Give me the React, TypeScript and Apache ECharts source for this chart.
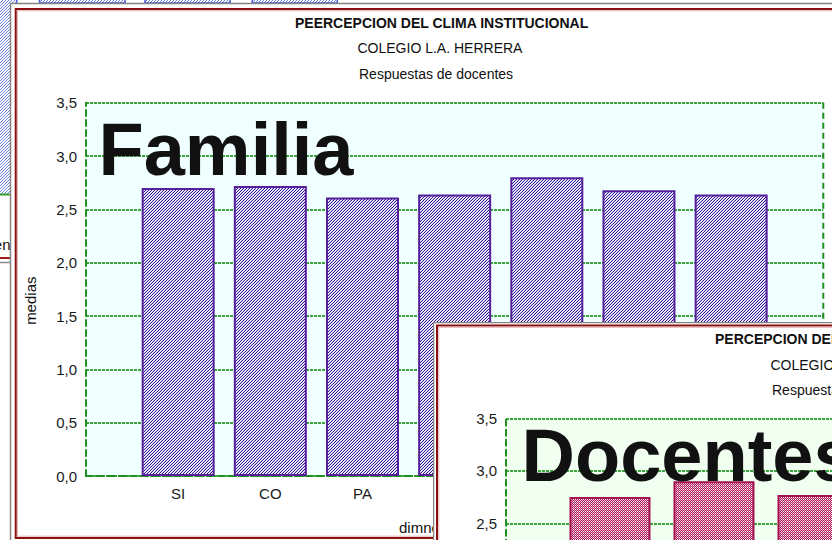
import React, { useEffect, useRef } from "react";
import * as echarts from "echarts";

// ---------- data ----------
const categories = ["SI", "CO", "PA", "CF", "MO", "LI", "RE"];
const familiaValues = [2.7, 2.72, 2.61, 2.64, 2.8, 2.68, 2.64];
const docentesValues = [2.75, 2.9, 2.77];
const mainTitle = "PEERCEPCION DEL CLIMA INSTITUCIONAL";
const docTitle = "PERCEPCION DEL CLIMA INSTITUCIONAL";
const subTitle1 = "COLEGIO L.A. HERRERA";
const subTitle2 = "Respuestas de docentes";
const yAxisName = "medias";
const xAxisName = "dimnesiones";
const familiaLabel = "Familia";
const docentesLabel = "Docentes";
const backLabel = "en";
const yMin = 0;
const yMax = 3.5;
const yStep = 0.5;
// labels that stay visible (the rest lie under the front window / below the page)
const visibleMainLabels = 3;
const docVisibleYFrom = 2.5;

const slots = ["", ...categories, ""];
const FONT = "'Liberation Sans', Arial, Helvetica, sans-serif";
const GREEN = "#1f8f1f";
const GRID_GREEN = "#3aa53a";

function makePattern(size: number, pick: (x: number, y: number) => string | null) {
  const c = document.createElement("canvas");
  c.width = size;
  c.height = size;
  const ctx = c.getContext("2d")!;
  ctx.fillStyle = "#ffffff";
  ctx.fillRect(0, 0, size, size);
  for (let y = 0; y < size; y++) {
    for (let x = 0; x < size; x++) {
      const col = pick(x, y);
      if (col) {
        ctx.fillStyle = col;
        ctx.fillRect(x, y, 1, 1);
      }
    }
  }
  return { image: c, repeat: "repeat", imageWidth: size, imageHeight: size } as any;
}

function txt(
  text: string,
  x: number,
  y: number,
  size: number,
  opts: { bold?: boolean; align?: string; rotation?: number; z?: number } = {}
) {
  const align = opts.align || "left";
  return {
    type: "text",
    x,
    y,
    z: opts.z ?? 20,
    rotation: opts.rotation || 0,
    silent: true,
    style: {
      text,
      fontSize: size,
      fontWeight: opts.bold ? "bold" : "normal",
      fontFamily: FONT,
      fill: "#111111",
      textAlign: align,
      align,
      textVerticalAlign: "middle",
      verticalAlign: "middle",
    },
  };
}

function line(x1: number, y1: number, x2: number, y2: number, stroke: string, w: number, dash?: number[], z = 30) {
  return {
    type: "line",
    z,
    silent: true,
    shape: { x1, y1, x2, y2 },
    style: { stroke, lineWidth: w, lineDash: dash || null, fill: null },
  };
}

function axes(grid: any, labelCount: number, yLabelFrom: number) {
  return {
    grid: { ...grid, show: true, borderWidth: 0 },
    xAxis: {
      type: "category",
      data: slots,
      boundaryGap: false,
      axisLine: { show: true, lineStyle: { color: GREEN, width: 2, type: [7, 4] } },
      axisTick: { show: true, inside: true, length: 3, lineStyle: { color: GREEN, width: 2 } },
      axisLabel: {
        show: labelCount > 0,
        interval: 0,
        margin: 10,
        fontSize: 15,
        color: "#1a1a1a",
        fontFamily: FONT,
        formatter: (v: string, i: number) => (i >= 1 && i <= labelCount ? v : ""),
      },
      splitLine: { show: false },
    },
    yAxis: {
      type: "value",
      min: yMin,
      max: yMax,
      interval: yStep,
      axisLine: { show: true, lineStyle: { color: GREEN, width: 2, type: [6, 4] } },
      axisTick: { show: false },
      axisLabel: {
        margin: 9,
        fontSize: 15,
        color: "#1a1a1a",
        fontFamily: FONT,
        formatter: (v: number) => (v >= yLabelFrom ? v.toFixed(1).replace(".", ",") : ""),
      },
      splitLine: { show: true, lineStyle: { color: GRID_GREEN, width: 2, type: [3, 1] } },
    },
  };
}

function buildMain() {
  const blue = makePattern(3, (x, y) => ((x + y) % 3 === 2 ? "#6a82e6" : null));
  const purple = makePattern(3, (x, y) =>
    (x + y) % 3 === 2 ? "#2a169c" : (x + y) % 3 === 1 ? "#d4cfee" : null
  );
  const G = { left: 86, top: 102.7, width: 737.3, height: 373.3 };
  const ax = axes({ ...G, backgroundColor: "#f0ffff" }, visibleMainLabels, yMin);
  return {
    animation: false,
    ...ax,
    series: [
      {
        type: "bar",
        data: ["-", ...familiaValues],
        barWidth: 73,
        silent: true,
        z: 3,
        itemStyle: { color: purple, borderColor: "#55209a", borderWidth: 2 },
      },
    ],
    graphic: [
      // window behind (left strip + top strip)
      { type: "rect", z: -20, silent: true, shape: { x: 0, y: 0, width: 10, height: 194 }, style: { fill: blue } },
      line(0, 194.5, 10, 194.5, "#2a9a2a", 2, undefined, -19),
      txt(backLabel, 10.5, 244, 15, { align: "right", z: -19 }),
      line(0, 258, 10, 258, "#a01818", 2, undefined, -19),
      line(0, 262.5, 10, 262.5, "#8a8a8a", 1.5, undefined, -19),
      { type: "rect", z: -19, silent: true, shape: { x: 0, y: 0, width: 16, height: 3 }, style: { fill: blue } },
      { type: "rect", z: -19, silent: true, shape: { x: 39.5, y: -2, width: 85.5, height: 5 }, style: { fill: blue, stroke: "#4a5ad8", lineWidth: 1.5 } },
      { type: "rect", z: -19, silent: true, shape: { x: 145, y: -2, width: 85, height: 5 }, style: { fill: blue, stroke: "#4a5ad8", lineWidth: 1.5 } },
      { type: "rect", z: -19, silent: true, shape: { x: 252.3, y: -2, width: 85, height: 5 }, style: { fill: blue, stroke: "#4a5ad8", lineWidth: 1.5 } },
      line(16.7, 0, 16.7, 3, "#4a5ad8", 1.5, undefined, -19),
      // main window
      { type: "rect", z: -15, silent: true, shape: { x: 10, y: 3, width: 900, height: 560 }, style: { fill: "#ffffff" } },
      line(10.5, 3, 10.5, 540, "#858585", 1.5, undefined, 40),
      line(10, 3.5, 832, 3.5, "#858585", 1.5, undefined, 40),
      { type: "rect", z: 40, silent: true, shape: { x: 15.7, y: 9, width: 900, height: 529 }, style: { fill: null, stroke: "#8b0f0f", lineWidth: 2 } },
      { type: "rect", z: 40, silent: true, shape: { x: 17.5, y: 10.8, width: 900, height: 525.4 }, style: { fill: null, stroke: "#e4b4b4", lineWidth: 1 } },
      // texts
      txt(mainTitle, 295, 23.2, 14, { bold: true }),
      txt(subTitle1, 357.5, 48.2, 14),
      txt(subTitle2, 359, 73.7, 14),
      txt(yAxisName, 30.5, 300.7, 15, { align: "center", rotation: Math.PI / 2 }),
      txt(xAxisName, 399, 527, 15),
      txt(familiaLabel, 98.5, 149.5, 74, { bold: true, z: 25 }),
      // plot right border
      line(G.left + G.width, G.top, G.left + G.width, G.top + G.height, GREEN, 2, [6, 4], 5),
    ],
  };
}

function buildDoc() {
  const crimson = makePattern(4, (x, y) =>
    (x + y) % 2 === 0 ? "#b01a5c" : x % 2 === 1 && y % 2 === 0 ? "#e8a8c4" : null
  );
  const G = { left: 73, top: 96.3, width: 832, height: 367.5 };
  const ax = axes({ ...G, backgroundColor: "#f0fff0" }, 0, docVisibleYFrom);
  return {
    animation: false,
    ...ax,
    series: [
      {
        type: "bar",
        data: ["-", ...docentesValues],
        barWidth: 81,
        silent: true,
        z: 3,
        itemStyle: { color: crimson, borderColor: "#a3124f", borderWidth: 2 },
      },
    ],
    graphic: [
      { type: "rect", z: -15, silent: true, shape: { x: 0, y: 0, width: 920, height: 600 }, style: { fill: "#ffffff" } },
      line(0.5, 0, 0.5, 600, "#858585", 1.5, undefined, 40),
      line(0, 0.5, 920, 0.5, "#858585", 1.5, undefined, 40),
      { type: "rect", z: 40, silent: true, shape: { x: 4, y: 3.5, width: 900, height: 600 }, style: { fill: null, stroke: "#8b0f0f", lineWidth: 2 } },
      { type: "rect", z: 40, silent: true, shape: { x: 5.8, y: 5.3, width: 900, height: 600 }, style: { fill: null, stroke: "#e4b4b4", lineWidth: 1 } },
      txt(docTitle, 282, 17.4, 14, { bold: true }),
      txt(subTitle1, 337.5, 43.2, 14),
      txt(subTitle2, 339, 68.2, 14),
      txt(docentesLabel, 88.5, 133, 74, { bold: true, z: 25 }),
    ],
  };
}

export default function App() {
  const mainRef = useRef<HTMLDivElement>(null);
  const docRef = useRef<HTMLDivElement>(null);
  useEffect(() => {
    const main = echarts.init(mainRef.current!, null, { renderer: "svg" });
    const doc = echarts.init(docRef.current!, null, { renderer: "svg" });
    main.setOption(buildMain() as any);
    doc.setOption(buildDoc() as any);
    return () => {
      main.dispose();
      doc.dispose();
    };
  }, []);
  return (
    <div
      style={{
        position: "fixed",
        left: 0,
        top: 0,
        width: 832,
        height: 540,
        overflow: "hidden",
        background: "#ffffff",
      }}
    >
      <div ref={mainRef} style={{ position: "absolute", left: 0, top: 0, width: 832, height: 540 }} />
      <div ref={docRef} style={{ position: "absolute", left: 433, top: 322, width: 920, height: 500 }} />
    </div>
  );
}
